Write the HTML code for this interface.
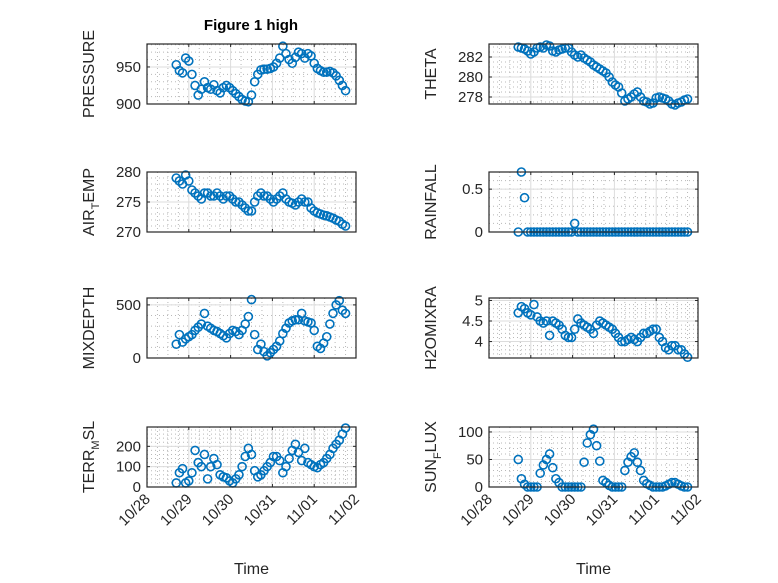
<!DOCTYPE html>
<html><head><meta charset="utf-8"><style>
body{margin:0;background:#fff;}
svg{display:block;font-family:"Liberation Sans","DejaVu Sans",sans-serif;}
</style></head><body>
<svg id="fig" width="778" height="583" viewBox="0 0 778 583">
<rect width="778" height="583" fill="#fff"/>
<text x="251" y="30" font-size="15" font-weight="bold" text-anchor="middle" fill="#000">Figure 1 high</text>
</svg>
<script>
const tStart = 0.70, tStep = 0.075;
const dayTicks = ["10/28","10/29","10/30","10/31","11/01","11/02"];
const pressure = [953,945,942,962,958,940,925,912,920,930,922,920,926,918,915,922,925,922,918,914,910,906,904,903,912,930,940,946,947,947,948,950,955,962,978,968,960,955,963,970,968,962,968,965,955,948,945,943,943,944,942,938,932,925,918];
const airTemp = [279,278.5,278,279.5,278.5,277,276.5,276,275.5,276.5,276.5,276,276,276.5,276,275.5,276,276,275.5,275,275,274.5,274,273.5,273.5,275,276,276.5,276,276,275.5,275,275.5,276,276.5,275.5,275,274.8,274.5,275,275.5,275,275,274,273.5,273.2,273,272.8,272.7,272.5,272.3,272,271.8,271.3,271];
const mixDepth = [130,220,150,180,200,220,260,290,320,420,300,280,260,250,230,210,190,230,260,250,220,260,320,390,550,220,80,130,60,20,50,80,110,160,230,280,330,350,360,360,420,350,340,330,260,110,90,140,200,320,420,500,540,450,420];
const terrMsl = [20,70,90,20,30,70,180,120,100,160,40,100,140,110,60,50,45,30,20,40,60,100,150,190,160,80,50,60,80,100,120,150,150,130,70,100,140,180,210,170,130,190,120,110,100,95,110,120,140,160,190,210,230,260,290];
const theta = [283,282.9,282.8,282.6,282.3,282.5,282.9,283,282.9,283.2,283.1,282.6,282.5,282.7,282.8,282.9,282.9,282.5,282.2,282,282.2,281.9,281.7,281.5,281.2,281,280.8,280.6,280.4,280,279.5,279.2,279,278.4,277.6,277.8,278,278.3,278.5,278,277.6,277.5,277.3,277.4,277.9,278,277.9,277.8,277.6,277.3,277.2,277.4,277.5,277.7,277.8];
const rainfall = [0,0.7,0.4,0,0,0,0,0,0,0,0,0,0,0,0,0,0,0,0.1,0,0,0,0,0,0,0,0,0,0,0,0,0,0,0,0,0,0,0,0,0,0,0,0,0,0,0,0,0,0,0,0,0,0,0,0];
const h2oMix = [4.7,4.85,4.8,4.7,4.65,4.9,4.6,4.5,4.45,4.5,4.15,4.5,4.45,4.4,4.3,4.15,4.1,4.1,4.3,4.55,4.45,4.4,4.35,4.3,4.2,4.4,4.5,4.45,4.4,4.35,4.3,4.2,4.1,4.0,4.0,4.05,4.1,4.05,4.0,4.1,4.2,4.2,4.25,4.3,4.3,4.1,4.0,3.85,3.8,3.9,3.9,3.8,3.8,3.7,3.62];
const sunFlux = [50,15,5,0,0,0,0,25,40,50,60,35,15,8,0,0,0,0,0,0,0,45,80,95,105,75,47,12,8,3,0,0,0,0,30,45,55,62,45,30,12,6,3,0,0,0,0,2,5,8,8,5,2,0,0];
const pressureTicks = [900,950];
const airTempTicks = [270,275,280];
const mixDepthTicks = [0,500];
const terrMslTicks = [0,100,200];
const thetaTicks = [278,280,282];
const rainfallTicks = [0,0.5];
const h2oTicks = [4,4.5,5];
const sunTicks = [0,50,100];

const NS="http://www.w3.org/2000/svg";
const svg=document.getElementById('fig');
function mk(tag,attrs,parent){const e=document.createElementNS(NS,tag);for(const k in attrs)e.setAttribute(k,attrs[k]);(parent||svg).appendChild(e);return e;}

const panels=[
 {key:'pressure',data:pressure,ticks:pressureTicks,lim:[900,981],x:147,y:44,label:['PRESSURE'],minor:10,bottom:false},
 {key:'air-temp',data:airTemp,ticks:airTempTicks,lim:[270,280],x:147,y:172,label:['AIR','T','EMP'],minor:1,bottom:false},
 {key:'mixdepth',data:mixDepth,ticks:mixDepthTicks,lim:[0,565],x:147,y:298,label:['MIXDEPTH'],minor:100,bottom:false},
 {key:'terr-msl',data:terrMsl,ticks:terrMslTicks,lim:[0,295],x:147,y:427,label:['TERR','M','SL'],minor:20,bottom:true},
 {key:'theta',data:theta,ticks:thetaTicks,lim:[277.3,283.3],x:489,y:44,label:['THETA'],minor:0.5,bottom:false},
 {key:'rainfall',data:rainfall,ticks:rainfallTicks,lim:[0,0.7],x:489,y:172,label:['RAINFALL'],minor:0.1,bottom:false},
 {key:'h2omixra',data:h2oMix,ticks:h2oTicks,lim:[3.6,5.06],x:489,y:298,label:['H2OMIXRA'],minor:0.1,bottom:false},
 {key:'sun-flux',data:sunFlux,ticks:sunTicks,lim:[0,109],x:489,y:427,label:['SUN','F','LUX'],minor:10,bottom:true},
];
const W=209,H=60;
panels.forEach(p=>{
  const g=mk('g',{});
  
  
  const xs=t=>p.x+t/5*W;
  const ys=v=>p.y+H-(v-p.lim[0])/(p.lim[1]-p.lim[0])*H;
  mk('rect',{x:p.x,y:p.y,width:W,height:H,fill:'#fff'},g);
  for(let d=0;d<5;d+=0.25){ if(Math.abs(d-Math.round(d))<1e-6) continue;
    const l=mk('line',{x1:xs(d),x2:xs(d),y1:p.y,y2:p.y+H,stroke:'#b8b8b8','stroke-width':1,'stroke-dasharray':'1 3'},g);
    }
  for(let v=Math.ceil(p.lim[0]/p.minor)*p.minor;v<p.lim[1];v+=p.minor){
    const l=mk('line',{x1:p.x,x2:p.x+W,y1:ys(v),y2:ys(v),stroke:'#b8b8b8','stroke-width':1,'stroke-dasharray':'1 3'},g);
    }
  for(let d=1;d<5;d++){const l=mk('line',{x1:xs(d),x2:xs(d),y1:p.y,y2:p.y+H,stroke:'#dcdcdc','stroke-width':1},g);
    }
  p.ticks.forEach(v=>{const yy=ys(v);
    const l=mk('line',{x1:p.x,x2:p.x+W,y1:yy,y2:yy,stroke:'#dcdcdc','stroke-width':1},g);
    
    mk('line',{x1:p.x,x2:p.x+3,y1:yy,y2:yy,stroke:'#262626'},g);
    mk('line',{x1:p.x+W-3,x2:p.x+W,y1:yy,y2:yy,stroke:'#262626'},g);
    const t=mk('text',{x:p.x-6,y:yy+5,'font-size':15,'text-anchor':'end',fill:'#262626'},g);
    t.textContent=String(v);
    });
  for(let d=0;d<=5;d++){
    mk('line',{x1:xs(d),x2:xs(d),y1:p.y+H,y2:p.y+H-3,stroke:'#262626'},g);
    mk('line',{x1:xs(d),x2:xs(d),y1:p.y,y2:p.y+3,stroke:'#262626'},g);
    if(p.bottom){const tx=xs(d)+4, ty=p.y+H+13;
      const t=mk('text',{x:tx,y:ty,'font-size':15,'text-anchor':'end',fill:'#262626',transform:`rotate(-45 ${tx} ${ty})`},g);
      t.textContent=dayTicks[d];
      }
  }
  p.data.forEach((v,i)=>{
    const c=mk('circle',{cx:xs(tStart+i*tStep),cy:ys(v),r:4,fill:'none',stroke:'#0072BD','stroke-width':1.6},g);
    
    
  });
  const box=mk('rect',{x:p.x,y:p.y,width:W,height:H,fill:'none',stroke:'#262626','stroke-width':1.2},g);
  
  const lx=p.x===147?94:436, ly=p.y+H/2;
  const lab=mk('text',{x:lx,y:ly,'font-size':16,'text-anchor':'middle',fill:'#262626',transform:`rotate(-90 ${lx} ${ly})`},g);
  
  if(p.label.length===1){lab.textContent=p.label[0];}
  else{const a=mk('tspan',{},lab);a.textContent=p.label[0];
    const b=mk('tspan',{dy:5,'font-size':11},lab);b.textContent=p.label[1];
    const c=mk('tspan',{dy:-5},lab);c.textContent=p.label[2];}
  if(p.bottom){const t=mk('text',{x:p.x+W/2,y:574,'font-size':16,'text-anchor':'middle',fill:'#262626'},g);
    t.textContent='Time';}
});
</script>
</body></html>
